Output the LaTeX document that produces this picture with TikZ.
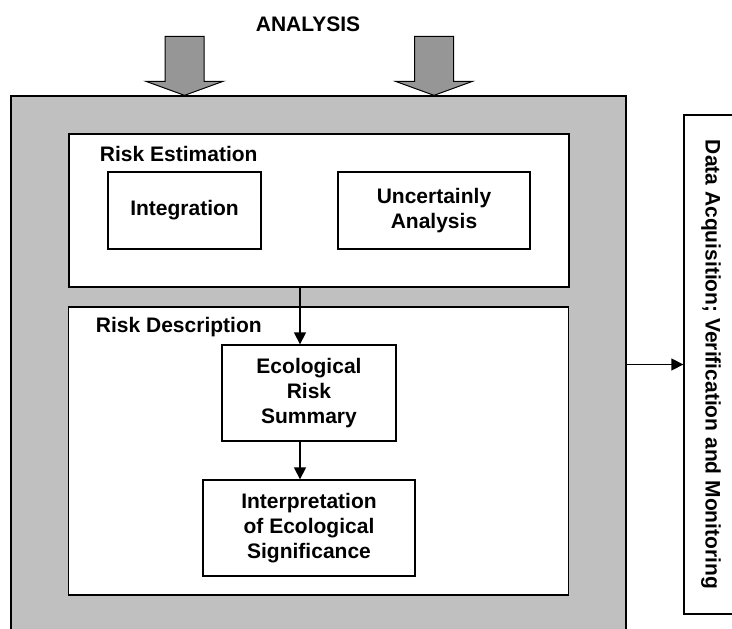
\documentclass[tikz,border=0pt]{standalone}
\usepackage{fontspec}
\setmainfont{Liberation Sans}
\usetikzlibrary{arrows.meta}
\definecolor{framegray}{HTML}{C0C0C0}
\definecolor{arrowgray}{HTML}{969696}

\begin{document}
\begin{tikzpicture}[x=1pt, y=-1pt, line width=1.3pt,
    font=\fontsize{21}{25}\selectfont\bfseries,
    box/.style={draw, fill=white, inner sep=0pt, align=center},
    flow/.style={-{Triangle[length=12pt,width=12pt]}},
    bigarrow/.style={draw, fill=arrowgray, line width=1pt}]
    \useasboundingbox (0,0) rectangle (732,629);
    \node[box, fill=framegray, minimum width=615pt, minimum height=544pt] (frame) at (318.5,368) {};
    \node (analysis) at (308,24) {ANALYSIS};
    \node[box, minimum width=500pt, minimum height=153pt] (est) at (319,210.5) {};
    \node[anchor=west] (estlab) at (96,154) {Risk Estimation};
    \node[box, minimum width=153pt, minimum height=77pt] (integ) at (184.5,210.5) {Integration};
    \node[box, minimum width=192pt, minimum height=77pt] (unc) at (434,210.5) {Uncertainly\\Analysis};
    \node[box, minimum width=500pt, minimum height=288pt] (desc) at (318.5,451) {};
    \node[anchor=west] (desclab) at (92,327) {Risk Description};
    \node[box, minimum width=174pt, minimum height=96pt] (eco) at (309,393) {Ecological\\Risk\\Summary};
    \node[box, minimum width=212pt, minimum height=96pt] (interp) at (309,528) {Interpretation\\of Ecological\\Significance};
    \node[box, rotate=-90, minimum width=499pt, minimum height=54pt] (daq) at (711,364.5) {Data Acquisition; Verification and Monitoring};
    \coordinate (ax) at (300,0);
    \foreach \n in {integ,unc}
        \draw[bigarrow] (\n.center |- frame.north) -- ++(-38.5,-14) -- ++(19,0) -- ++(0,-45)
            -- ++(39,0) -- ++(0,45) -- ++(19,0) -- cycle;
    \draw[flow] (ax |- est.south) -- (ax |- eco.north);
    \draw[flow] (ax |- eco.south) -- (ax |- interp.north);
    \draw[flow] (frame.east |- daq.south) -- (daq.south);
\end{tikzpicture}
\end{document}
